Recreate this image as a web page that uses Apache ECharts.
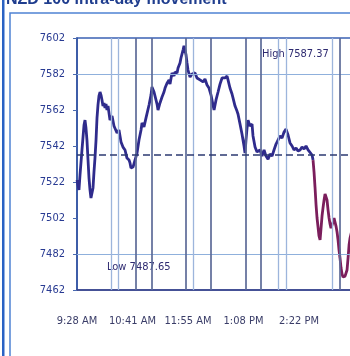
<!DOCTYPE html>
<html>
<head>
<meta charset="utf-8">
<script src="https://cdn.jsdelivr.net/npm/echarts@6/dist/echarts.min.js"></script>
<style>
  html, body { margin: 0; padding: 0; background: #ffffff; }
  #chart { width: 350px; height: 356px; }
</style>
</head>
<body>
<div id="chart"></div>
<script>
// Intra-day index level, sampled as minutes after the 9:28 AM open.
const minutes = [
  0, 2.6, 4.0, 6.6, 9.3, 10.6, 11.9, 13.2, 14.6, 15.9, 17.2, 18.5, 19.9, 21.2, 22.5, 23.8,
  25.2, 26.5, 27.8, 29.1, 30.5, 31.8, 33.1, 34.4, 35.8, 37.1, 38.4, 39.7, 41.1, 43.7, 46.4,
  49.0, 53.0, 55.6, 58.3, 60.9, 63.6, 66.2, 68.9, 70.2, 71.5, 74.2, 76.8, 79.5, 82.1, 84.8,
  86.1, 88.7, 91.4, 92.7, 95.4, 98.0, 99.3, 102.0, 103.3, 106.0, 107.3, 109.9, 112.6, 115.2,
  116.6, 119.2, 121.9, 123.2, 125.8, 128.5, 129.8, 132.5, 133.8, 136.4, 137.7, 140.4, 141.7,
  143.0, 144.4, 145.7, 147.0, 149.7, 152.3, 156.3, 158.9, 162.9, 166.9, 169.5, 172.2, 174.8,
  177.5, 180.1, 181.5, 184.1, 186.8, 189.4, 192.1, 193.4, 196.0, 198.7, 200.0, 202.6, 205.3,
  206.6, 209.3, 211.9, 213.2, 215.9, 218.5, 221.2, 222.5, 223.8, 225.2, 226.5, 229.1, 231.8,
  233.1, 235.8, 238.4, 239.7, 242.4, 245.0, 247.7, 250.3, 253.0, 255.6, 258.3, 260.9, 263.6,
  266.2, 268.9, 271.5, 274.2, 276.8, 279.5, 282.1, 284.8, 287.4, 290.1, 292.7, 295.4, 298.0,
  300.7, 303.3, 306.0, 308.6, 311.3, 312.6, 313.9, 315.2, 316.6, 317.9, 319.2, 320.5, 321.9,
  323.2, 324.5, 325.8, 327.2, 328.5, 329.8, 331.1, 332.5, 333.8, 335.1, 336.4, 337.7, 339.1,
  340.4, 341.7, 343.0, 344.4, 345.7, 347.0, 348.3, 349.7, 351.0, 352.3, 353.6, 355.0, 356.3,
  357.6, 359.0, 360.3, 361.6, 364.2, 368.2
];
const prices = [
  7523.1, 7517.6, 7525.9, 7539.8, 7553.7, 7556.4, 7552.0, 7545.3, 7534.2, 7524.2, 7517.6, 7513.1, 7512.0, 7518.7, 7527.6, 7535.3,
  7545.3, 7557.6, 7564.8, 7569.8, 7572.0, 7570.3, 7567.6, 7564.2, 7565.9, 7563.1, 7565.3, 7562.0, 7564.2, 7556.4, 7558.7,
  7553.1, 7549.2, 7550.9, 7544.2, 7541.4, 7539.8, 7535.3, 7534.2, 7532.6, 7529.8, 7530.3, 7534.2, 7538.1, 7545.3, 7550.9,
  7554.8, 7552.6, 7557.6, 7558.1, 7564.8, 7570.3, 7574.8, 7572.0, 7573.1, 7565.3, 7562.0, 7565.9, 7569.2, 7572.0,
  7574.2, 7576.9, 7578.7, 7576.4, 7582.6, 7580.9, 7583.1, 7582.6, 7585.3, 7588.1, 7590.9, 7595.3, 7597.6,
  7597.0, 7592.6, 7588.1, 7584.2, 7580.3, 7582.0, 7582.6, 7579.8, 7578.7, 7577.6, 7579.2, 7575.9, 7574.2,
  7570.3, 7564.8, 7562.0, 7567.6, 7572.0, 7576.4, 7579.8, 7580.9, 7579.8, 7580.9, 7578.7, 7574.2, 7570.9,
  7568.7, 7564.2, 7561.4, 7559.8, 7554.2, 7548.7, 7542.0, 7538.1, 7545.3, 7552.0, 7556.4, 7553.1, 7554.2,
  7547.6, 7541.4, 7538.7, 7537.6, 7539.8, 7536.4, 7539.8, 7536.4, 7534.7, 7537.6, 7536.4, 7539.8, 7543.1,
  7545.3, 7547.6, 7546.4, 7549.8, 7551.4, 7548.1, 7543.7, 7542.0, 7539.8, 7540.9, 7539.2, 7539.8, 7541.4,
  7540.3, 7542.0, 7539.8, 7540.3, 7537.0, 7534.2, 7527.6, 7519.2, 7509.2, 7502.0, 7497.0, 7492.0, 7489.8,
  7496.4, 7503.1, 7507.6, 7512.0, 7515.3, 7516.4, 7512.0, 7506.4, 7502.0, 7498.7, 7496.4, 7497.5, 7499.7,
  7502.0, 7500.9, 7497.5, 7494.2, 7489.8, 7484.2, 7479.8, 7474.2, 7470.9, 7469.2, 7469.7, 7469.7, 7470.3,
  7473.1, 7479.8, 7487.0, 7490.9, 7495.3, 7498.1
];

// Time-axis labels, one per 73.5 minute step from the open.
const timeLabels = ['9:28 AM', '10:41 AM', '11:55 AM', '1:08 PM', '2:22 PM'];
const timeStep = 73.5;
const sessionLength = 441;

// Price axis range and step.
const priceMin = 7462;
const priceMax = 7602;
const priceStep = 20;

// Previous close reference level (dashed line).
const prevClose = 7537;
// Highlighted horizontal price levels.
const gridLevels = [7582, 7482];
// Vertical time markers (minutes after open): strong and faint.
const markersStrong = [78, 99.5, 144.5, 177.5, 224, 244, 348];
const markersFaint = [45, 54, 153.6, 266, 277, 338];
// Minute from which the line is drawn in the late-session colour.
const lateSessionStart = 312.6;

const highText = 'High 7587.37';
const lowText = 'Low 7487.65';
const titleText = 'NZD 100 intra-day movement';

const narrow = "'Liberation Sans Narrow', 'DejaVu Sans Condensed', 'Arial Narrow', sans-serif";

const chart = echarts.init(document.getElementById('chart'), null, { renderer: 'canvas' });

const points = minutes.map((m, i) => [m, prices[i]]);
const earlyPoints = points.filter(p => p[0] <= lateSessionStart);
const latePoints = points.filter(p => p[0] >= lateSessionStart);

const markLineData = [];
gridLevels.forEach(v => markLineData.push({ yAxis: v, lineStyle: { color: '#8fb0dc', width: 1.2, type: 'solid' } }));
markersFaint.forEach(m => markLineData.push({ xAxis: m, lineStyle: { color: '#9db5dc', width: 1.3, type: 'solid' } }));
markersStrong.forEach(m => markLineData.push({ xAxis: m, lineStyle: { color: '#5d6b98', width: 1.7, type: 'solid' } }));
markLineData.push({ yAxis: prevClose, lineStyle: { color: '#2c3a72', width: 1.5, type: [7, 4] } });

chart.setOption({
  animation: false,
  backgroundColor: '#ffffff',
  grid: {
    left: 77, width: 333, top: 38, height: 252,
    outerBoundsMode: 'none', containLabel: false,
    show: true, borderColor: '#3b62b4', borderWidth: 1.5, backgroundColor: 'transparent'
  },
  xAxis: {
    type: 'value',
    min: 0, max: sessionLength, interval: timeStep,
    axisLine: { show: true, lineStyle: { color: '#3a3f86', width: 1.5 } },
    axisTick: { show: false },
    splitLine: { show: false },
    axisLabel: {
      margin: 26, showMinLabel: true, hideOverlap: false,
      fontFamily: narrow, fontSize: 11, color: '#3a3d68',
      formatter: v => timeLabels[Math.round(v / timeStep)] || ''
    }
  },
  yAxis: {
    type: 'value',
    min: priceMin, max: priceMax, interval: priceStep,
    axisLine: { show: true, lineStyle: { color: '#2f4f9e', width: 1.5 } },
    axisTick: { show: true, length: 4, lineStyle: { color: '#4a6ab0', width: 1 } },
    splitLine: { show: false },
    axisLabel: {
      margin: 12,
      fontFamily: narrow, fontSize: 11, color: '#283a92',
      formatter: v => String(v)
    }
  },
  series: [
    {
      name: 'Morning', type: 'line', z: 3,
      data: earlyPoints,
      showSymbol: false, smooth: false,
      lineStyle: { width: 2.8, color: '#2f2b8c' },
      markLine: {
        silent: true, symbol: 'none', label: { show: false },
        data: markLineData
      }
    },
    {
      name: 'Late', type: 'line', z: 3,
      data: latePoints,
      showSymbol: false, smooth: false,
      lineStyle: { width: 2.8, color: '#7b1e5c' }
    }
  ],
  graphic: [
    { type: 'rect', shape: { x: 2, y: 0, width: 2.5, height: 356 }, style: { fill: '#2a62c4' }, silent: true },
    { type: 'rect', shape: { x: 10, y: 13, width: 400, height: 400 }, style: { fill: 'none', stroke: '#4f82d4', lineWidth: 1.5 }, silent: true },
    { type: 'text', left: 6, top: -8, style: { text: titleText, font: "bold 16px 'Liberation Sans', Arial, sans-serif", fill: '#1f3d8e' }, silent: true },
    { type: 'text', left: 262, top: 49, style: { text: highText, font: "11px " + narrow, fill: '#2e2a70' }, silent: true },
    { type: 'text', left: 107, top: 262, style: { text: lowText, font: "11px " + narrow, fill: '#2e2a70' }, silent: true }
  ]
});
</script>
</body>
</html>
